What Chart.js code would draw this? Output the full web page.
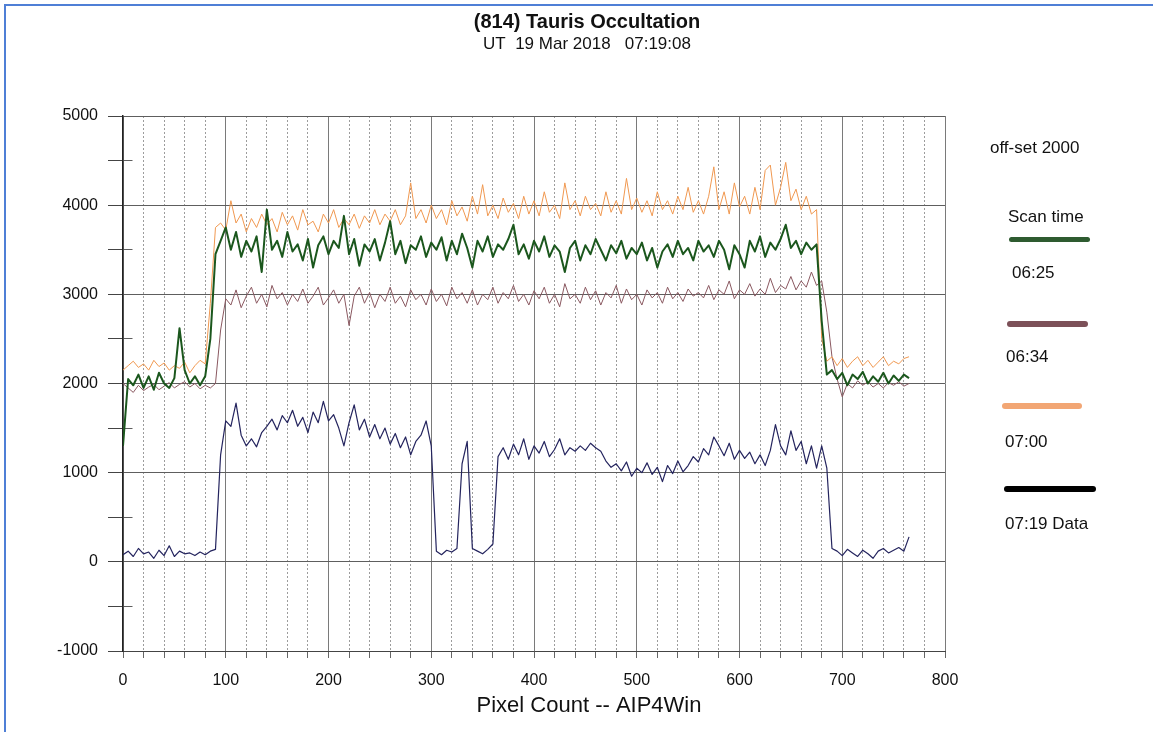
<!DOCTYPE html>
<html>
<head>
<meta charset="utf-8">
<script src="https://cdn.jsdelivr.net/npm/chart.js@4.4.1/dist/chart.umd.min.js"></script>
<style>
html,body{margin:0;padding:0;background:#fff;}
#wrap{position:relative;width:1153px;height:732px;overflow:hidden;font-family:"Liberation Sans",Arial,sans-serif;background:#fff;}
#chart{position:absolute;left:0;top:0;}
#frame{position:absolute;left:4px;top:4px;width:1170px;height:760px;border-top:2px solid #4f7fd6;border-left:2px solid #4f7fd6;pointer-events:none;}
.lg{position:absolute;font-size:17px;color:#111;white-space:nowrap;line-height:17px;}
.sw{position:absolute;height:5px;border-radius:3px;}
</style>
</head>
<body>
<div id="wrap">
  <canvas id="chart" width="1153" height="732"></canvas>
  <div id="frame"></div>
  <div id="legend"></div>
</div>
<script>
// ---------------- data ----------------
const chartTitle = '(814) Tauris Occultation';
const chartSubtitle = 'UT  19 Mar 2018   07:19:08';
const xAxisTitle = 'Pixel Count -- AIP4Win';
const legendHeader = 'off-set 2000';
const legendSubheader = 'Scan time';
const seriesNames = ['06:25', '06:34', '07:00', '07:19 Data'];

const pixelX = [
  0,5,10,15,20,25,30,35,40,45,
  50,55,60,65,70,75,80,85,90,95,
  100,105,110,115,120,125,130,135,140,145,
  150,155,160,165,170,175,180,185,190,195,
  200,205,210,215,220,225,230,235,240,245,
  250,255,260,265,270,275,280,285,290,295,
  300,305,310,315,320,325,330,335,340,345,
  350,355,360,365,370,375,380,385,390,395,
  400,405,410,415,420,425,430,435,440,445,
  450,455,460,465,470,475,480,485,490,495,
  500,505,510,515,520,525,530,535,540,545,
  550,555,560,565,570,575,580,585,590,595,
  600,605,610,615,620,625,630,635,640,645,
  650,655,660,665,670,675,680,685,690,695,
  700,705,710,715,720,725,730,735,740,745,
  750,755,760,765
];

const scan0625 = [
  1300,2050,1980,2100,1950,2080,1930,2120,2000,1950,
  2060,2620,2150,2000,2080,1980,2080,2500,3450,3600,
  3750,3500,3700,3420,3600,3480,3650,3250,3950,3500,
  3600,3420,3700,3480,3560,3380,3620,3300,3550,3650,
  3450,3600,3520,3880,3450,3620,3320,3560,3480,3620,
  3380,3580,3820,3450,3600,3350,3550,3500,3650,3420,
  3580,3500,3640,3380,3600,3450,3680,3520,3300,3600,
  3480,3650,3420,3560,3500,3620,3780,3450,3560,3400,
  3600,3480,3650,3420,3550,3480,3250,3520,3600,3380,
  3550,3450,3620,3500,3380,3550,3460,3600,3400,3520,
  3450,3580,3380,3520,3300,3480,3560,3420,3600,3450,
  3520,3380,3600,3480,3550,3420,3600,3500,3280,3550,
  3450,3300,3600,3480,3650,3420,3580,3500,3620,3780,
  3520,3600,3450,3580,3500,3560,2700,2100,2150,2050,
  2120,1980,2100,2050,2130,2000,2080,2020,2120,2000,
  2090,2030,2100,2060
];

const scan0634 = [
  2000,1950,1900,1980,1920,1960,1990,1930,1970,2010,
  1950,1990,2020,1960,2000,1940,1980,1950,2000,2600,
  2950,2880,3050,2850,2980,3080,2900,3000,2860,3100,
  2950,3020,2880,3000,2920,3060,2900,2980,3080,2880,
  2960,3050,2900,3000,2650,2980,3080,2900,3020,2850,
  3000,2920,3080,2900,2980,2860,3050,2940,3000,2880,
  3060,2920,3000,2870,3080,2950,3020,2900,3050,2880,
  3000,2940,3080,2900,3020,2950,3100,2920,3000,2880,
  3040,2950,3080,2900,3000,2860,3120,2950,3000,2900,
  3080,2940,3040,2880,3020,2960,3100,2900,3060,2940,
  3000,2880,3050,2960,3020,2900,3080,2950,3020,2920,
  3060,2980,3020,2960,3100,2940,3050,3000,3150,2950,
  3050,3000,3120,2980,3060,3000,3180,3020,3100,3060,
  3200,3050,3150,3080,3250,3100,3150,2800,2300,2050,
  1850,2000,1950,2030,1980,2020,1960,2000,1950,2010,
  1980,2020,1970,2000
];

const scan0700 = [
  2150,2200,2250,2180,2220,2150,2260,2190,2230,2150,
  2200,2170,2240,2120,2200,2260,2220,2900,3750,3800,
  3720,4050,3800,3900,3700,3850,3750,3900,3780,3850,
  3700,3920,3780,3880,3720,3950,3780,3820,3700,3900,
  3800,3950,3750,3850,3780,3900,3740,3880,3800,3950,
  3780,3900,3820,3950,3780,3880,4250,3850,3950,3800,
  4000,3850,3950,3780,4050,3880,3980,3820,4100,3900,
  4230,3880,4000,3850,4080,3920,4020,3850,4100,3900,
  4050,3880,4150,3920,4000,3850,4250,3950,4050,3880,
  4100,3950,4020,3880,4150,3920,4050,3900,4300,3950,
  4080,3920,4050,3880,4150,3950,4050,3900,4100,3950,
  4200,3920,4050,3900,4100,4430,3950,4150,3900,4250,
  3980,4100,3900,4200,3950,4390,4450,4000,4200,4480,
  4050,4180,3950,4100,3900,3950,2500,2250,2300,2200,
  2280,2180,2250,2300,2200,2260,2180,2240,2300,2200,
  2250,2220,2280,2300
];

const data0719 = [
  80,120,60,150,90,110,40,130,70,180,
  60,120,90,100,70,110,80,120,140,1200,
  1580,1520,1780,1420,1300,1380,1290,1450,1520,1600,
  1480,1640,1560,1700,1520,1620,1450,1680,1560,1800,
  1580,1650,1500,1300,1560,1760,1480,1600,1400,1540,
  1380,1500,1320,1440,1280,1400,1200,1350,1420,1580,
  1300,120,80,130,110,150,1100,1350,150,120,
  90,140,200,1180,1280,1150,1320,1200,1380,1150,
  1300,1220,1350,1180,1260,1380,1200,1280,1240,1300,
  1250,1330,1280,1240,1130,1060,1100,1020,1120,960,
  1050,1000,1110,980,1060,900,1080,990,1130,1010,
  1080,1180,1120,1270,1200,1400,1300,1190,1330,1150,
  1250,1160,1230,1100,1200,1080,1250,1540,1300,1200,
  1470,1250,1350,1100,1300,1050,1300,1050,150,120,
  70,140,100,60,130,90,40,120,150,100,
  130,160,120,280
];

// ---------------- styles ----------------
const FONT = '"Liberation Sans", Arial, sans-serif';
const lineColors = ['#1b571d', '#f09850', '#8a5860', '#24245e'];
const lineWidths = [2, 1, 1, 1.2];
const legendColors = ['#2e5b30', '#7c5058', '#f2a674', '#000000'];

const toPoints = (vals) => pixelX.map((x, i) => ({ x: x, y: vals[i] }));

const datasets = [
  { label: seriesNames[0], data: toPoints(scan0625), borderColor: lineColors[0], borderWidth: lineWidths[0] },
  { label: seriesNames[2], data: toPoints(scan0700), borderColor: lineColors[1], borderWidth: lineWidths[1] },
  { label: seriesNames[1], data: toPoints(scan0634), borderColor: lineColors[2], borderWidth: lineWidths[2] },
  { label: seriesNames[3], data: toPoints(data0719), borderColor: lineColors[3], borderWidth: lineWidths[3] }
].map(d => Object.assign(d, {
  pointRadius: 0, tension: 0, fill: false, borderJoinStyle: 'round',
  xAxisID: 'x', yAxisID: 'y'
}));

new Chart(document.getElementById('chart'), {
  type: 'line',
  data: { datasets: datasets },
  options: {
    responsive: false,
    animation: false,
    devicePixelRatio: 1,
    events: [],
    layout: { padding: { left: 21, right: 0, top: 0, bottom: 0 } },
    plugins: {
      legend: { display: false },
      tooltip: { enabled: false },
      title: {
        display: true, text: chartTitle, color: '#111',
        font: { family: FONT, size: 20, weight: 'bold' },
        padding: { top: 10, bottom: 0 }
      },
      subtitle: {
        display: true, text: chartSubtitle, color: '#111',
        font: { family: FONT, size: 17, weight: 'normal' },
        padding: { top: 0, bottom: 61.6 }
      }
    },
    scales: {
      x: {
        type: 'linear', position: 'bottom', min: 0, max: 800,
        afterFit: (s) => { s.height = 81; },
        ticks: {
          stepSize: 20, autoSkip: false, maxRotation: 0, minRotation: 0, maxTicksLimit: 100,
          padding: 13, color: '#111', font: { family: FONT, size: 16 },
          callback: (v) => (v % 100 === 0 ? String(v) : '')
        },
        grid: {
          color: (c) => (c.tick && c.tick.value % 100 === 0 ? '#7a7a7a' : '#9c9c9c'),
          lineWidth: 1,
          drawTicks: true, tickLength: 7, tickColor: '#666', tickWidth: 1
        },
        border: {
          display: true, color: '#444', width: 1,
          dash: (c) => (c.tick && c.tick.value % 100 !== 0 ? [2, 2] : [])
        },
        title: {
          display: true,
          text: '                  ' + xAxisTitle,
          color: '#111', font: { family: FONT, size: 22 },
          padding: { top: 0, bottom: 12.8 }
        }
      },
      y: {
        type: 'linear', position: 'left', min: -1000, max: 5000,
        afterFit: (s) => { s.width = 102; },
        ticks: {
          stepSize: 500, autoSkip: false, padding: 10, color: '#111',
          font: { family: FONT, size: 16 },
          callback: (v) => (v % 1000 === 0 ? String(v) : '')
        },
        grid: {
          color: '#5e5e5e', lineWidth: 1,
          drawTicks: true, tickLength: 15, tickColor: '#444', tickWidth: 1
        },
        border: {
          display: true, color: '#222', width: 1.5,
          dash: (c) => (c.tick && c.tick.value % 1000 !== 0 ? [9, 4000] : [])
        }
      },
      yRight: {
        type: 'linear', position: 'right', display: true,
        grid: { display: false }, ticks: { display: false }, border: { display: false },
        afterFit: (s) => { s.width = 208; }
      }
    }
  }
});

// ---------------- legend (HTML text) ----------------
const legendEl = document.getElementById('legend');
function addText(txt, left, top) {
  const d = document.createElement('div');
  d.className = 'lg'; d.textContent = txt;
  d.style.left = left + 'px'; d.style.top = top + 'px';
  legendEl.appendChild(d);
}
function addSwatch(color, left, top, width, height) {
  const d = document.createElement('div');
  d.className = 'sw'; d.style.background = color;
  d.style.left = left + 'px'; d.style.top = top + 'px';
  d.style.width = width + 'px'; d.style.height = height + 'px';
  legendEl.appendChild(d);
}
addText(legendHeader, 990, 139);
addText(legendSubheader, 1008, 208);
const swatchPos = [[1009, 237, 81, 5], [1007, 321, 81, 6], [1002, 403, 80, 6], [1004, 486, 92, 6]];
const labelPos = [[1012, 264], [1006, 348], [1005, 433], [1005, 515]];
seriesNames.forEach((name, i) => {
  addSwatch(legendColors[i], swatchPos[i][0], swatchPos[i][1], swatchPos[i][2], swatchPos[i][3]);
  addText(name, labelPos[i][0], labelPos[i][1]);
});
</script>
</body>
</html>
